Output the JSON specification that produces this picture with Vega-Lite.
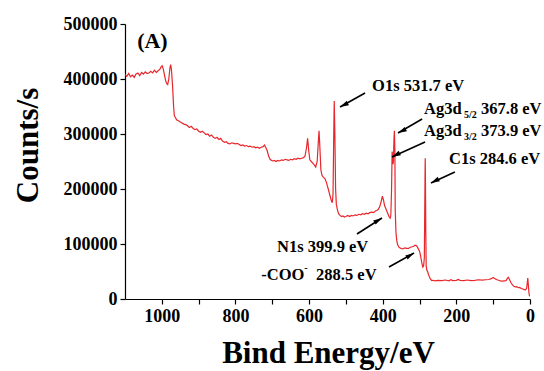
{
  "$schema": "https://vega.github.io/schema/vega-lite/v6.json",
  "width": 405,
  "height": 275,
  "autosize": "none",
  "padding": {"left": 125, "top": 24, "right": 14, "bottom": 72},
  "background": "white",
  "config": {
    "view": {"stroke": null},
    "font": "Liberation Serif",
    "axis": {
      "grid": false,
      "domainColor": "black",
      "domainWidth": 1.2,
      "tickColor": "black",
      "tickWidth": 1.2,
      "tickSize": 5,
      "labelColor": "black",
      "labelFont": "Liberation Serif",
      "labelFontWeight": "bold",
      "labelFontSize": 18,
      "labelFlush": false,
      "labelOverlap": false,
      "titleFont": "Liberation Serif",
      "titleFontWeight": "bold",
      "titleFontSize": 31,
      "titleColor": "black"
    }
  },
  "datasets": {
    "spectrum": [
      {"E": 1100, "c": 408000}, {"E": 1095, "c": 405000}, {"E": 1090, "c": 410000}, {"E": 1085, "c": 404000},
      {"E": 1080, "c": 407000}, {"E": 1075, "c": 403000}, {"E": 1070, "c": 409000}, {"E": 1065, "c": 411000},
      {"E": 1060, "c": 406000}, {"E": 1055, "c": 412000}, {"E": 1050, "c": 409000}, {"E": 1045, "c": 413000},
      {"E": 1040, "c": 410000}, {"E": 1035, "c": 411000}, {"E": 1030, "c": 414000}, {"E": 1025, "c": 411000},
      {"E": 1020, "c": 416000}, {"E": 1015, "c": 412000}, {"E": 1010, "c": 415000}, {"E": 1005, "c": 418000},
      {"E": 1002, "c": 422000}, {"E": 999, "c": 424000}, {"E": 996, "c": 418000}, {"E": 993, "c": 408000},
      {"E": 990, "c": 398000}, {"E": 987, "c": 392000}, {"E": 984, "c": 390000}, {"E": 981, "c": 400000},
      {"E": 978, "c": 420000}, {"E": 976, "c": 426000}, {"E": 974, "c": 418000}, {"E": 971, "c": 390000},
      {"E": 968, "c": 350000}, {"E": 966, "c": 333000}, {"E": 963, "c": 330000}, {"E": 960, "c": 326000},
      {"E": 955, "c": 324000}, {"E": 950, "c": 322000}, {"E": 945, "c": 320000}, {"E": 940, "c": 318000},
      {"E": 935, "c": 317000}, {"E": 930, "c": 315000}, {"E": 925, "c": 312000}, {"E": 920, "c": 314000},
      {"E": 915, "c": 310000}, {"E": 910, "c": 308000}, {"E": 905, "c": 309000}, {"E": 900, "c": 305000},
      {"E": 895, "c": 303000}, {"E": 890, "c": 305000}, {"E": 885, "c": 302000}, {"E": 880, "c": 299000},
      {"E": 875, "c": 300000}, {"E": 870, "c": 296000}, {"E": 865, "c": 298000}, {"E": 860, "c": 294000},
      {"E": 855, "c": 292000}, {"E": 850, "c": 294000}, {"E": 845, "c": 290000}, {"E": 840, "c": 292000},
      {"E": 835, "c": 287000}, {"E": 830, "c": 285000}, {"E": 825, "c": 286000}, {"E": 820, "c": 283000},
      {"E": 815, "c": 282000}, {"E": 810, "c": 284000}, {"E": 805, "c": 283000}, {"E": 800, "c": 282000},
      {"E": 795, "c": 283000}, {"E": 790, "c": 281000}, {"E": 785, "c": 279000}, {"E": 780, "c": 280000},
      {"E": 775, "c": 278000}, {"E": 770, "c": 279000}, {"E": 765, "c": 277000}, {"E": 760, "c": 278000},
      {"E": 755, "c": 276000}, {"E": 750, "c": 277000}, {"E": 745, "c": 275000}, {"E": 740, "c": 276000},
      {"E": 735, "c": 274000}, {"E": 730, "c": 276000}, {"E": 725, "c": 277000}, {"E": 721, "c": 280000},
      {"E": 718, "c": 276000}, {"E": 714, "c": 270000}, {"E": 710, "c": 260000}, {"E": 706, "c": 254000},
      {"E": 702, "c": 252000}, {"E": 698, "c": 251000}, {"E": 694, "c": 252000}, {"E": 690, "c": 250000},
      {"E": 685, "c": 252000}, {"E": 680, "c": 251000}, {"E": 675, "c": 253000}, {"E": 670, "c": 252000},
      {"E": 665, "c": 254000}, {"E": 660, "c": 253000}, {"E": 655, "c": 252000}, {"E": 650, "c": 254000},
      {"E": 645, "c": 253000}, {"E": 640, "c": 255000}, {"E": 635, "c": 254000}, {"E": 630, "c": 256000},
      {"E": 625, "c": 255000}, {"E": 620, "c": 256000}, {"E": 615, "c": 257000}, {"E": 611, "c": 260000},
      {"E": 607, "c": 275000}, {"E": 604, "c": 292000}, {"E": 601, "c": 270000}, {"E": 598, "c": 253000},
      {"E": 594, "c": 250000}, {"E": 590, "c": 247000}, {"E": 586, "c": 244000}, {"E": 582, "c": 240000},
      {"E": 578, "c": 250000}, {"E": 575, "c": 285000}, {"E": 573, "c": 306000}, {"E": 571, "c": 280000},
      {"E": 568, "c": 235000}, {"E": 565, "c": 225000}, {"E": 561, "c": 221000}, {"E": 557, "c": 219000},
      {"E": 553, "c": 212000}, {"E": 548, "c": 200000}, {"E": 544, "c": 190000}, {"E": 540, "c": 180000},
      {"E": 537, "c": 175000}, {"E": 535, "c": 190000}, {"E": 533, "c": 300000}, {"E": 531.7, "c": 360000},
      {"E": 530, "c": 300000}, {"E": 528, "c": 200000}, {"E": 526, "c": 172000}, {"E": 523, "c": 162000},
      {"E": 520, "c": 155000}, {"E": 516, "c": 152000}, {"E": 512, "c": 150000}, {"E": 508, "c": 151000},
      {"E": 504, "c": 149000}, {"E": 500, "c": 150000}, {"E": 495, "c": 152000}, {"E": 490, "c": 150000},
      {"E": 485, "c": 152000}, {"E": 480, "c": 151000}, {"E": 475, "c": 153000}, {"E": 470, "c": 152000},
      {"E": 465, "c": 154000}, {"E": 460, "c": 153000}, {"E": 455, "c": 155000}, {"E": 450, "c": 154000},
      {"E": 445, "c": 156000}, {"E": 440, "c": 155000}, {"E": 435, "c": 157000}, {"E": 430, "c": 158000},
      {"E": 425, "c": 157000}, {"E": 420, "c": 160000}, {"E": 416, "c": 161000}, {"E": 412, "c": 163000},
      {"E": 408, "c": 168000}, {"E": 404, "c": 178000}, {"E": 401, "c": 187000}, {"E": 398, "c": 180000},
      {"E": 395, "c": 170000}, {"E": 392, "c": 165000}, {"E": 389, "c": 160000}, {"E": 386, "c": 155000},
      {"E": 383, "c": 150000}, {"E": 380, "c": 147000}, {"E": 378, "c": 152000}, {"E": 376, "c": 200000},
      {"E": 374.5, "c": 268000}, {"E": 373.5, "c": 262000}, {"E": 372, "c": 245000}, {"E": 371, "c": 250000},
      {"E": 369.5, "c": 290000}, {"E": 368.3, "c": 306000}, {"E": 367, "c": 270000}, {"E": 366, "c": 160000},
      {"E": 364, "c": 120000}, {"E": 362, "c": 107000}, {"E": 360, "c": 100000}, {"E": 357, "c": 95000},
      {"E": 354, "c": 93000}, {"E": 350, "c": 92000}, {"E": 345, "c": 91000}, {"E": 340, "c": 93000},
      {"E": 335, "c": 92000}, {"E": 330, "c": 92000}, {"E": 325, "c": 94000}, {"E": 320, "c": 95000},
      {"E": 316, "c": 96000}, {"E": 312, "c": 98000}, {"E": 308, "c": 97000}, {"E": 304, "c": 92000},
      {"E": 300, "c": 87000}, {"E": 297, "c": 78000}, {"E": 294, "c": 66000}, {"E": 291, "c": 58000},
      {"E": 289, "c": 60000}, {"E": 287, "c": 75000}, {"E": 286, "c": 150000}, {"E": 285, "c": 230000},
      {"E": 284.6, "c": 256000}, {"E": 284, "c": 220000}, {"E": 283, "c": 120000}, {"E": 282, "c": 60000},
      {"E": 280, "c": 52000}, {"E": 278, "c": 50000}, {"E": 276, "c": 45000}, {"E": 273, "c": 40000},
      {"E": 270, "c": 36000}, {"E": 267, "c": 33500}, {"E": 263, "c": 34000}, {"E": 258, "c": 33000},
      {"E": 250, "c": 34000}, {"E": 240, "c": 33500}, {"E": 230, "c": 34500}, {"E": 220, "c": 33000},
      {"E": 215, "c": 35000}, {"E": 210, "c": 33500}, {"E": 200, "c": 34000}, {"E": 195, "c": 35500},
      {"E": 190, "c": 34000}, {"E": 180, "c": 33500}, {"E": 170, "c": 34500}, {"E": 160, "c": 33500},
      {"E": 150, "c": 34000}, {"E": 140, "c": 35000}, {"E": 130, "c": 34500}, {"E": 120, "c": 35000},
      {"E": 112, "c": 35500}, {"E": 105, "c": 37000}, {"E": 100, "c": 39000}, {"E": 95, "c": 37000},
      {"E": 90, "c": 35000}, {"E": 85, "c": 34000}, {"E": 80, "c": 33000}, {"E": 75, "c": 32500},
      {"E": 70, "c": 33000}, {"E": 65, "c": 33500}, {"E": 62, "c": 37000}, {"E": 59, "c": 39500},
      {"E": 56, "c": 36000}, {"E": 52, "c": 30000}, {"E": 48, "c": 26000}, {"E": 44, "c": 23000},
      {"E": 40, "c": 22000}, {"E": 36, "c": 22500}, {"E": 32, "c": 20500}, {"E": 28, "c": 21000},
      {"E": 24, "c": 19000}, {"E": 20, "c": 18500}, {"E": 16, "c": 17000}, {"E": 12, "c": 16500},
      {"E": 9, "c": 20000}, {"E": 7, "c": 32000}, {"E": 6, "c": 38000}, {"E": 5, "c": 30000},
      {"E": 3, "c": 12000}, {"E": 2, "c": 8000}, {"E": 1, "c": 5000}
    ],
    "arrows": [
      {"x": 448, "y": 374500, "x2": 516, "y2": 349100},
      {"x": 293, "y": 327300, "x2": 358.5, "y2": 301800},
      {"x": 285, "y": 285500, "x2": 375, "y2": 258200},
      {"x": 204, "y": 230900, "x2": 269, "y2": 210900},
      {"x": 470, "y": 118200, "x2": 402, "y2": 147300},
      {"x": 383, "y": 58200, "x2": 315, "y2": 83600}
    ],
    "labels": [
      {"t": "(A)", "x": 1067, "y": 469100, "role": "panel"},
      {"t": "O1s 531.7 eV", "x": 429, "y": 387300, "role": "main"},
      {"t": "Ag3d", "x": 288, "y": 345500, "role": "main"},
      {"t": "5/2", "x": 179, "y": 334500, "role": "script"},
      {"t": "367.8 eV", "x": 133, "y": 345500, "role": "main"},
      {"t": "Ag3d", "x": 288, "y": 305500, "role": "main"},
      {"t": "3/2", "x": 179, "y": 294500, "role": "script"},
      {"t": "373.9 eV", "x": 133, "y": 305500, "role": "main"},
      {"t": "C1s 284.6 eV", "x": 220, "y": 254500, "role": "main"},
      {"t": "N1s 399.9 eV", "x": 687, "y": 94500, "role": "main"},
      {"t": "-COO", "x": 730, "y": 43600, "role": "main"},
      {"t": "-", "x": 613, "y": 56400, "role": "script"},
      {"t": "288.5 eV", "x": 581, "y": 43600, "role": "main"}
    ]
  },
  "layer": [
    {
      "data": {"name": "spectrum"},
      "mark": {"type": "line", "color": "#e8262b", "strokeWidth": 1.2, "clip": true},
      "encoding": {
        "x": {
          "field": "E", "type": "quantitative",
          "scale": {"domain": [0, 1100], "reverse": true, "nice": false, "zero": false},
          "axis": {
            "title": "Bind Energy/eV",
            "values": [0, 100, 200, 300, 400, 500, 600, 700, 800, 900, 1000],
            "labelExpr": "datum.value % 200 === 0 ? datum.value : ''",
            "encode": {"ticks": {"update": {"y2": {"signal": "datum.value % 200 === 0 ? 5 : 3"}}}},
            "labelPadding": 3,
            "titleX": 203,
            "titleY": 63,
            "titleAlign": "center",
            "titleBaseline": "alphabetic"
          }
        },
        "y": {
          "field": "c", "type": "quantitative",
          "scale": {"domain": [0, 500000], "nice": false},
          "axis": {
            "title": "Counts/s",
            "values": [0, 50000, 100000, 150000, 200000, 250000, 300000, 350000, 400000, 450000, 500000],
            "labelExpr": "datum.value % 100000 === 0 ? datum.value : ''",
            "encode": {"ticks": {"update": {"x2": {"signal": "datum.value % 100000 === 0 ? -5 : -3"}}}},
            "labelPadding": 3,
            "titleX": -88,
            "titleY": 121,
            "titleAlign": "center",
            "titleBaseline": "alphabetic",
            "titleAngle": -90
          }
        }
      }
    },
    {
      "data": {"name": "arrows"},
      "mark": {"type": "rule", "color": "black", "strokeWidth": 1.6},
      "encoding": {
        "x": {"field": "x", "type": "quantitative"},
        "x2": {"field": "x2"},
        "y": {"field": "y", "type": "quantitative"},
        "y2": {"field": "y2"}
      }
    },
    {
      "data": {"name": "arrows"},
      "transform": [{"filter": "datum.x2 > datum.x"}],
      "mark": {"type": "point", "shape": "M0,0 L0.6,2.2 L-0.6,2.2 Z", "filled": true, "color": "black", "opacity": 1, "size": 64, "angle": 243},
      "encoding": {
        "x": {"field": "x2", "type": "quantitative"},
        "y": {"field": "y2", "type": "quantitative"}
      }
    },
    {
      "data": {"name": "arrows"},
      "transform": [{"filter": "datum.x2 < datum.x"}],
      "mark": {"type": "point", "shape": "M0,0 L0.6,2.2 L-0.6,2.2 Z", "filled": true, "color": "black", "opacity": 1, "size": 64, "angle": 59},
      "encoding": {
        "x": {"field": "x2", "type": "quantitative"},
        "y": {"field": "y2", "type": "quantitative"}
      }
    },
    {
      "data": {"name": "labels"},
      "transform": [{"filter": "datum.role === 'main'"}],
      "mark": {"type": "text", "align": "left", "baseline": "middle", "font": "Liberation Serif", "fontWeight": "bold", "fontSize": 16.5, "color": "black"},
      "encoding": {
        "x": {"field": "x", "type": "quantitative"},
        "y": {"field": "y", "type": "quantitative"},
        "text": {"field": "t"}
      }
    },
    {
      "data": {"name": "labels"},
      "transform": [{"filter": "datum.role === 'script'"}],
      "mark": {"type": "text", "align": "left", "baseline": "middle", "font": "Liberation Serif", "fontWeight": "bold", "fontSize": 10, "color": "black"},
      "encoding": {
        "x": {"field": "x", "type": "quantitative"},
        "y": {"field": "y", "type": "quantitative"},
        "text": {"field": "t"}
      }
    },
    {
      "data": {"name": "labels"},
      "transform": [{"filter": "datum.role === 'panel'"}],
      "mark": {"type": "text", "align": "left", "baseline": "middle", "font": "Liberation Serif", "fontWeight": "bold", "fontSize": 22, "color": "black"},
      "encoding": {
        "x": {"field": "x", "type": "quantitative"},
        "y": {"field": "y", "type": "quantitative"},
        "text": {"field": "t"}
      }
    }
  ]
}
